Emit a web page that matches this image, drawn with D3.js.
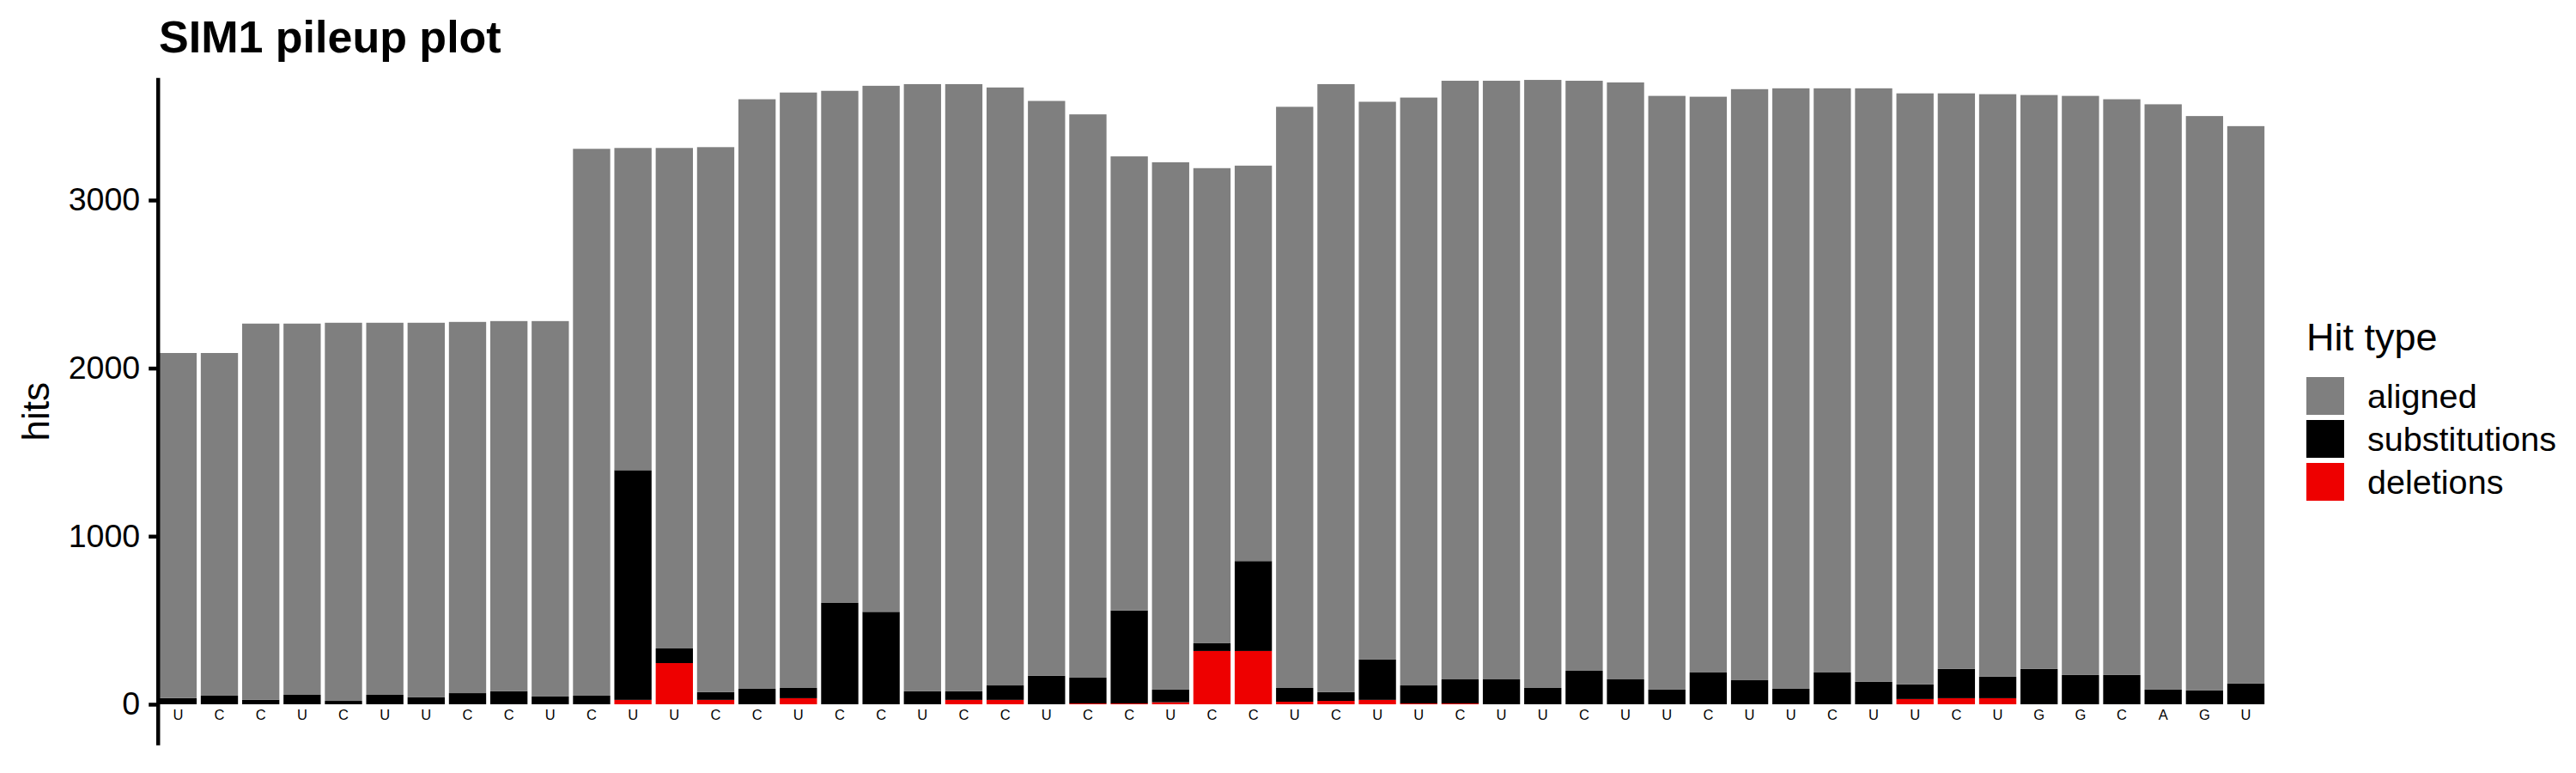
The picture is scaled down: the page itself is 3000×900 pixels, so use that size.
<!DOCTYPE html>
<html>
<head>
<meta charset="utf-8">
<script src="https://cdn.jsdelivr.net/npm/d3@7"></script>
<style>
  html, body { margin: 0; padding: 0; background: #ffffff; }
  svg { display: block; font-family: "Liberation Sans", Arial, sans-serif; }
</style>
</head>
<body>
<svg id="chart" width="3000" height="900"></svg>
<script>
// ---- data ----
const bases = ["U","C","C","U","C","U","U","C","C","U","C","U","U","C","C","U","C","C","U","C","C","U","C","C","U","C","C","U","C","U","U","C","U","U","C","U","U","C","U","U","C","U","U","C","U","G","G","C","A","G","U"];
const totalHits = [2090,2090,2265,2265,2270,2270,2270,2275,2280,2280,3305,3310,3310,3315,3600,3640,3650,3680,3690,3690,3670,3590,3510,3260,3225,3190,3205,3555,3690,3585,3610,3710,3710,3715,3710,3700,3620,3615,3660,3665,3665,3665,3635,3635,3630,3625,3620,3600,3570,3500,3440];
const substitutions = [37,51,26,56,20,56,41,66,77,46,51,1367,87,46,92,61,603,550,77,51,86,169,153,553,75,46,535,82,52,240,107,143,148,97,199,148,87,189,143,92,189,133,87,174,128,210,174,174,87,82,123];
const deletions = [0,0,0,0,0,0,0,0,0,0,0,26,245,26,0,36,0,0,0,26,26,0,5,5,12,317,317,15,20,26,5,5,0,0,0,0,0,0,0,0,0,0,31,36,36,0,0,0,0,0,0];
const aligned = totalHits.map((t, i) => t - substitutions[i] - deletions[i]);
const hitTypes = ["aligned", "substitutions", "deletions"];
const hitColors = ["#7F7F7F", "#000000", "#EE0000"];
const yTicks = [0, 1000, 2000, 3000];

// ---- layout ----
const svg = d3.select("#chart");
const panelTop = 90.7, panelBottom = 867.7;
const axisX = 184.2;

const x = d3.scaleBand()
  .domain(d3.range(bases.length))
  .range([183.27, 2639.6])
  .paddingInner(0.1)
  .paddingOuter(0.05);

const y = d3.scaleLinear()
  .domain([-244, 3727])
  .range([panelBottom, panelTop]);

const color = d3.scaleOrdinal().domain(hitTypes).range(hitColors);

// stacked data: deletions at bottom, then substitutions, aligned on top
const rows = bases.map((b, i) => ({ idx: i, aligned: aligned[i], substitutions: substitutions[i], deletions: deletions[i] }));
const stack = d3.stack().keys(["deletions", "substitutions", "aligned"]);
const series = stack(rows);

const g = svg.append("g");
g.selectAll("g.layer")
  .data(series)
  .join("g")
  .attr("class", "layer")
  .attr("fill", d => color(d.key))
  .selectAll("rect")
  .data(d => d)
  .join("rect")
  .attr("x", d => x(d.data.idx))
  .attr("width", x.bandwidth())
  .attr("y", d => y(d[1]))
  .attr("height", d => Math.max(0, y(d[0]) - y(d[1])));

// base letters under bars
g.selectAll("text.base")
  .data(bases)
  .join("text")
  .attr("class", "base")
  .attr("x", (d, i) => x(i) + x.bandwidth() / 2)
  .attr("y", y(-92))
  .attr("text-anchor", "middle")
  .attr("font-size", 16.5)
  .attr("fill", "#000")
  .text(d => d);

// y axis
const yAxis = d3.axisLeft(y).tickValues(yTicks).tickSize(11).tickPadding(10).tickFormat(d3.format("d"));
const ax = svg.append("g")
  .attr("transform", `translate(${axisX},0)`)
  .call(yAxis);
ax.select(".domain").remove();
ax.append("line")
  .attr("x1", 0).attr("x2", 0)
  .attr("y1", panelTop).attr("y2", panelBottom)
  .attr("stroke", "#000").attr("stroke-width", 4.5);
ax.selectAll(".tick line").attr("stroke", "#000").attr("stroke-width", 4.5);
ax.selectAll(".tick text")
  .attr("font-size", 37.5)
  .attr("fill", "#000")
  .attr("font-family", "Liberation Sans, Arial, sans-serif");

// axis title
svg.append("text")
  .attr("transform", `translate(57, ${(panelTop + panelBottom) / 2}) rotate(-90)`)
  .attr("text-anchor", "middle")
  .attr("font-size", 44)
  .attr("fill", "#000")
  .text("hits");

// title
svg.append("text")
  .attr("x", 185)
  .attr("y", 61)
  .attr("font-size", 52)
  .attr("font-weight", "bold")
  .attr("fill", "#000")
  .text("SIM1 pileup plot");

// legend
const legend = svg.append("g").attr("transform", "translate(2686,0)");
legend.append("text")
  .attr("x", 0).attr("y", 408)
  .attr("font-size", 45)
  .attr("fill", "#000")
  .text("Hit type");
const li = legend.selectAll("g.item")
  .data(hitTypes)
  .join("g")
  .attr("class", "item")
  .attr("transform", (d, i) => `translate(0, ${439 + i * 50})`);
li.append("rect")
  .attr("width", 44).attr("height", 44)
  .attr("fill", d => color(d));
li.append("text")
  .attr("x", 71).attr("y", 22)
  .attr("dy", "0.35em")
  .attr("font-size", 39.6)
  .attr("fill", "#000")
  .text(d => d);
</script>
</body>
</html>
